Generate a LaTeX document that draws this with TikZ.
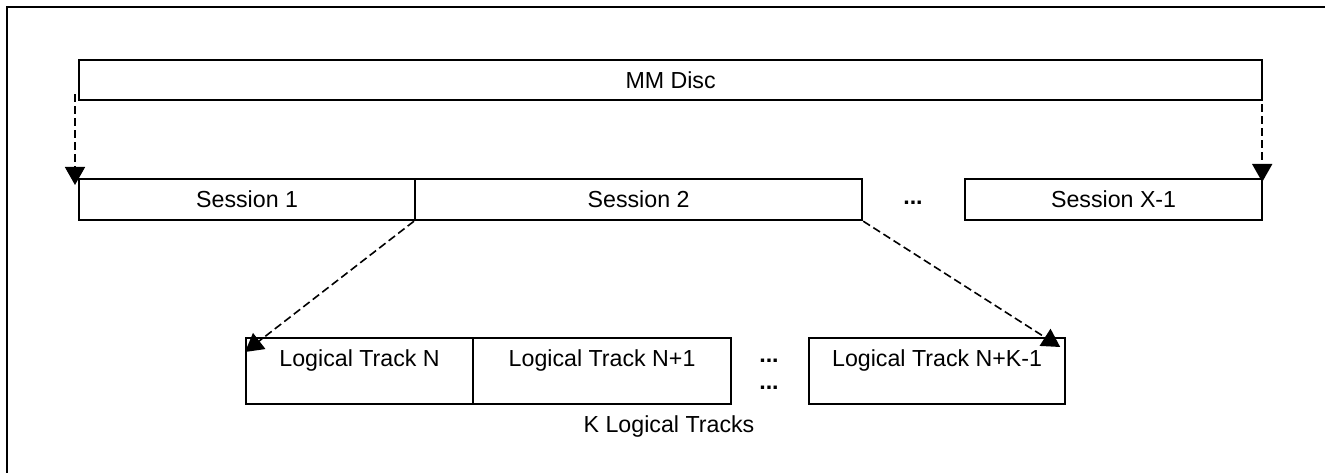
\documentclass[tikz,border=0pt]{standalone}
\usepackage{fontspec}
\setmainfont{Liberation Sans}
\usetikzlibrary{arrows.meta,calc}
\begin{document}
\begin{tikzpicture}[x=1pt,y=-1pt,
  txt/.style={font=\fontsize{23.2}{27}\selectfont},
  box/.style={draw,line width=2.2pt,inner sep=0pt,anchor=north west,txt},
  trk/.style={box,text height=28pt,text depth=38pt,minimum height=66pt},
  lbl/.style={inner sep=0pt,txt},
  dotlbl/.style={inner sep=0pt,font=\fontsize{23.2}{27}\selectfont\bfseries},
  dasharrow/.style={line width=1.6pt,dash pattern=on 8pt off 4pt,-{Triangle[width=20pt,length=18pt]}}]
\useasboundingbox (0,0) rectangle (1325,473);
\draw[line width=2.4pt] (7,480) -- (7,7) -- (1330,7);
\node[box,minimum width=1183pt,minimum height=40pt] (disc) at (78,59) {MM Disc};
\node[box,minimum width=336pt,minimum height=41pt] (s1) at (78,178) {Session 1};
\node[box,minimum width=447pt,minimum height=41pt] (s2) at (414,178) {Session 2};
\node[box,minimum width=297pt,minimum height=41pt] (sx) at (964,178) {Session X-1};
\node[dotlbl] (sdots) at (913,203) {...};
\node[trk,minimum width=227pt] (t1) at (245,337) {Logical Track N};
\node[trk,minimum width=258pt] (t2) at (472,337) {Logical Track N+1};
\node[trk,minimum width=256pt] (tk) at (808,337) {Logical Track N+K-1};
\node[dotlbl] (tdots1) at (769,361) {...};
\node[dotlbl] (tdots2) at (769,388) {...};
\node[lbl] (klabel) at (669,426) {K Logical Tracks};
\draw[dasharrow] ($(disc.south west)+(-3,-7)$) -- ($(s1.north west)+(-3,7)$);
\draw[dasharrow] ($(disc.south east)+(-1,3)$) -- ($(sx.north east)+(-1,4)$);
\draw[dasharrow] (s2.south west) -- ($(t1.north west)+(0,15)$);
\draw[dasharrow] (s2.south east) -- ($(tk.north east)+(-6,10)$);
\end{tikzpicture}
\end{document}
